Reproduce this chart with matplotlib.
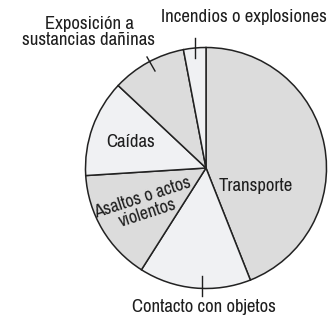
import matplotlib
matplotlib.use("Agg")
import matplotlib.pyplot as plt

# Data (percent of total)
labels = ["Transporte", "Contacto con objetos", "Asaltos o actos violentos",
          "Caídas", "Exposición a sustancias dañinas", "Incendios o explosiones"]
values = [44, 15, 15, 13, 10, 3]
colors = ["#dcdcdc", "#f0f1f3", "#dcdcdc", "#f0f1f3", "#dcdcdc", "#f0f1f3"]

W, H = 330, 322
CX, CY, R = 206, 168, 120.5


def px(x, y):
    # pixel position -> data coords (pie radius = 1)
    return (x - CX) / R, (CY - y) / R


plt.rcParams['font.family'] = ['Archivo Narrow', 'DejaVu Sans']

fig = plt.figure(figsize=(W / 100, H / 100), dpi=100)
ax = fig.add_axes([0, 0, 1, 1])
ax.pie(values, colors=colors, startangle=90, counterclock=False,
       wedgeprops=dict(edgecolor="#222222", linewidth=1.1))
ax.set_xlim(-CX / R, (W - CX) / R)
ax.set_ylim(-(H - CY) / R, CY / R)
ax.set_aspect("equal")
ax.axis("off")

fs = 13.5
tc = "#1e1e1e"

# labels inside the wedges
ax.text(*px(256, 186), "Transporte", ha="center", va="center", fontsize=fs, color=tc)
ax.text(*px(131, 142), "Caídas", ha="center", va="center", fontsize=fs, color=tc)
ax.text(*px(145, 205), "Asaltos o actos\nviolentos", ha="center", va="center",
        fontsize=13, color=tc, rotation=18, linespacing=1.0,
        rotation_mode="anchor")

# labels outside with leader ticks
ax.text(*px(89, 32), "Exposición a\nsustancias dañinas", ha="center", va="center",
        fontsize=fs, color=tc, linespacing=1.0)
ax.plot(*zip(px(147, 57), px(155, 71)), color=tc, lw=1)

ax.text(*px(244, 17), "Incendios o explosiones", ha="center", va="center",
        fontsize=fs, color=tc)
ax.plot(*zip(px(195, 38), px(195, 58)), color=tc, lw=1)

ax.text(*px(204, 307), "Contacto con objetos", ha="center", va="center",
        fontsize=fs, color=tc)
ax.plot(*zip(px(202, 276), px(202, 296)), color=tc, lw=1)

fig.savefig("out.png", dpi=100)
